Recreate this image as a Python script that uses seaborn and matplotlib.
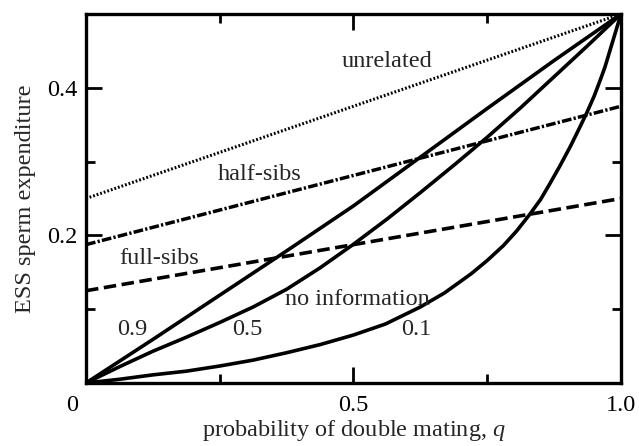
import matplotlib
matplotlib.use("Agg")
import matplotlib.pyplot as plt
import matplotlib.transforms as mtransforms
from matplotlib.ticker import MultipleLocator
import seaborn as sns
import numpy as np

# related-male lines (linear in q)
q_lin = [0.0, 1.0]
unrelated = [0.25, 0.50]
half_sibs = [0.1875, 0.375]
full_sibs = [0.125, 0.25]

# "no information" curves
q_09 = [0, 0.125, 0.25, 0.375, 0.5, 0.625, 0.75, 0.875, 1.0]
s_09 = [0, 0.059, 0.119, 0.179, 0.240, 0.306, 0.372, 0.437, 0.5]

q_05 = [0, 0.0625, 0.125, 0.1875, 0.25, 0.3125, 0.375, 0.4375, 0.5, 0.5625,
        0.625, 0.6875, 0.75, 0.8125, 0.875, 0.9375, 1.0]
s_05 = [0, 0.022, 0.043, 0.062, 0.082, 0.103, 0.127, 0.156, 0.188, 0.222,
        0.258, 0.295, 0.333, 0.373, 0.415, 0.457, 0.5]

q_01 = [0, 0.0625, 0.125, 0.1875, 0.25, 0.3125, 0.375, 0.4375, 0.5, 0.56,
        0.625, 0.67, 0.72, 0.75, 0.78, 0.805, 0.83, 0.85, 0.867, 0.885,
        0.905, 0.92, 0.936, 0.95, 0.961, 0.97, 0.98, 0.99, 1.0]
s_01 = [0, 0.005, 0.011, 0.016, 0.023, 0.031, 0.041, 0.052, 0.065, 0.080,
        0.103, 0.122, 0.148, 0.166, 0.186, 0.206, 0.229, 0.249, 0.27, 0.293,
        0.32, 0.342, 0.366, 0.389, 0.41, 0.428, 0.452, 0.476, 0.5]

sns.set_style("ticks")
plt.rcParams['font.family'] = ['Liberation Serif', 'DejaVu Serif']
plt.rcParams['mathtext.fontset'] = 'custom'
plt.rcParams['mathtext.it'] = 'Liberation Serif:italic'
plt.rcParams['mathtext.rm'] = 'Liberation Serif'
plt.rcParams['lines.scale_dashes'] = False

fs = 17.5
fig = plt.figure(figsize=(6.39, 4.46), dpi=100)
ax = fig.add_axes([0.1346, 0.1413, 0.8372, 0.8273])

sns.lineplot(x=q_lin, y=unrelated, ax=ax, color='black', lw=2.2,
             linestyle=(0, (1.3, 1.4)), estimator=None)
sns.lineplot(x=q_lin, y=half_sibs, ax=ax, color='black', lw=2.5,
             linestyle=(0, (7, 1.6, 1.6, 1.6)), estimator=None)
sns.lineplot(x=q_lin, y=full_sibs, ax=ax, color='black', lw=2.6,
             linestyle=(0, (9, 4)), estimator=None)
for qq, ss in [(q_09, s_09), (q_05, s_05), (q_01, s_01)]:
    sns.lineplot(x=qq, y=ss, ax=ax, color='black', lw=2.6, estimator=None)

ax.text(0.563, 0.435, "unrelated", fontsize=fs, ha='center', va='center')
ax.text(0.325, 0.282, "half-sibs", fontsize=fs, ha='center', va='center')
ax.text(0.136, 0.169, "full-sibs", fontsize=fs, ha='center', va='center')
ax.text(0.507, 0.113, "no information", fontsize=fs, ha='center', va='center')
ax.text(0.086, 0.073, "0.9", fontsize=fs, ha='center', va='center')
ax.text(0.301, 0.073, "0.5", fontsize=fs, ha='center', va='center')
ax.text(0.617, 0.073, "0.1", fontsize=fs, ha='center', va='center')

ax.set_xlim(0, 1)
ax.set_ylim(0, 0.5)
ax.set_xticks([0, 0.5, 1.0])
ax.set_xticklabels(["0", "0.5", "1.0"])
ax.set_yticks([0.2, 0.4])
ax.set_yticklabels(["0.2", "0.4"])
ax.xaxis.set_minor_locator(MultipleLocator(0.25))
ax.yaxis.set_minor_locator(MultipleLocator(0.1))
ax.tick_params(which='both', direction='in', top=True, right=True, width=2,
               color='black', labelsize=fs, labelcolor='black')
ax.tick_params(which='major', length=11.5)
ax.tick_params(which='minor', length=6.5)
ax.tick_params(axis='x', which='major', pad=9)
ax.tick_params(axis='y', which='major', pad=6)

# shared origin label sits left of the corner
off = mtransforms.ScaledTranslation(-14 / 100, 0, fig.dpi_scale_trans)
lab0 = ax.get_xticklabels()[0]
lab0.set_transform(lab0.get_transform() + off)

for sp in ax.spines.values():
    sp.set_visible(True)
    sp.set_linewidth(2.4)
    sp.set_color('black')

ax.set_xlabel("probability of double mating, $q$", fontsize=fs, labelpad=1)
ax.set_ylabel("ESS sperm expenditure", fontsize=fs, labelpad=8)

plt.savefig("out.png", dpi=100)
plt.close()
